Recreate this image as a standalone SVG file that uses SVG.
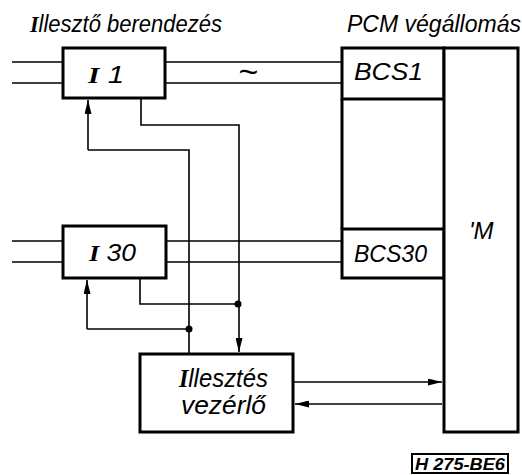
<svg xmlns="http://www.w3.org/2000/svg" width="522" height="475" viewBox="0 0 522 475">
<defs>
<style>
.box{fill:#fff;stroke:#000;stroke-width:3}
.ln{fill:none;stroke:#000;stroke-width:1.6}
.t{font-family:"Liberation Sans","DejaVu Sans",sans-serif;font-style:italic;fill:#000}
.s{font-family:"Liberation Serif","DejaVu Serif",serif;font-weight:bold}
.dot{fill:#000}
</style>
<marker id="ah" viewBox="0 0 14 7" refX="14" refY="3.5" markerWidth="14" markerHeight="7" markerUnits="userSpaceOnUse" orient="auto">
<path d="M0,0 L14,3.5 L0,7 Z" fill="#000"/>
</marker>
</defs>
<rect width="522" height="475" fill="#fff"/>
<text class="t" x="30" y="32" font-size="23" textLength="192" lengthAdjust="spacingAndGlyphs"><tspan class="s">I</tspan>llesztő berendezés</text>
<text class="t" x="347" y="32" font-size="23" textLength="174" lengthAdjust="spacingAndGlyphs">PCM végállomás</text>
<g id="connectors">
<path class="ln" d="M12,62 H63 M12,83 H63 M165,62 H342 M165,83 H342"/>
<path class="ln" d="M12,241 H63 M12,262 H63 M166,241 H342 M166,262 H342"/>
<path class="ln" d="M88,150 V100" marker-end="url(#ah)"/>
<path class="ln" d="M88,150 H189 V354"/>
<path class="ln" d="M141,98 V125 H239 V352" marker-end="url(#ah)"/>
<path class="ln" d="M87,329 V280" marker-end="url(#ah)"/>
<path class="ln" d="M87,329 H189"/>
<path class="ln" d="M140,278 V304 H238"/>
<path class="ln" d="M293,382 H442" marker-end="url(#ah)"/>
<path class="ln" d="M442,404 H295" marker-end="url(#ah)"/>
<circle class="dot" cx="189" cy="329" r="3.5"/>
<circle class="dot" cx="238" cy="304" r="3.5"/>
</g>
<text class="t" x="248" y="83" font-size="34" text-anchor="middle">~</text>
<g id="I1">
<rect class="box" x="63" y="48" width="102" height="50"/>
<text class="t" x="88" y="83" font-size="24" textLength="36" lengthAdjust="spacingAndGlyphs"><tspan class="s">I</tspan> 1</text>
</g>
<g id="I30">
<rect class="box" x="63" y="226" width="103" height="52"/>
<text class="t" x="89" y="261" font-size="24" textLength="47" lengthAdjust="spacingAndGlyphs"><tspan class="s">I</tspan> 30</text>
</g>
<g id="PCM">
<path class="box" d="M342,99 V229" fill="none"/>
</g>
<g id="BCS1">
<rect class="box" x="342" y="48" width="102" height="51"/>
<text class="t" x="354" y="80" font-size="23" textLength="69" lengthAdjust="spacingAndGlyphs">BCS1</text>
</g>
<g id="BCS30">
<rect class="box" x="342" y="229" width="102" height="49"/>
<text class="t" x="354" y="262" font-size="23" textLength="73" lengthAdjust="spacingAndGlyphs">BCS30</text>
</g>
<g id="M">
<rect class="box" x="444" y="48" width="74" height="384" fill="none"/>
<text class="t" x="469" y="239" font-size="24">'M</text>
</g>
<g id="vezerlo">
<rect class="box" x="140" y="354" width="153" height="78"/>
<text class="t" x="179" y="387" font-size="25" textLength="89" lengthAdjust="spacingAndGlyphs"><tspan class="s">I</tspan>llesztés</text>
<text class="t" x="181" y="414" font-size="25" textLength="85" lengthAdjust="spacingAndGlyphs">vezérlő</text>
</g>
<g id="label">
<rect x="412" y="454" width="96" height="19" fill="#fff" stroke="#000" stroke-width="2"/>
<text class="t" x="460" y="470" font-size="16" font-weight="bold" text-anchor="middle" textLength="90" lengthAdjust="spacingAndGlyphs">H 275-BE6</text>
</g>
</svg>
